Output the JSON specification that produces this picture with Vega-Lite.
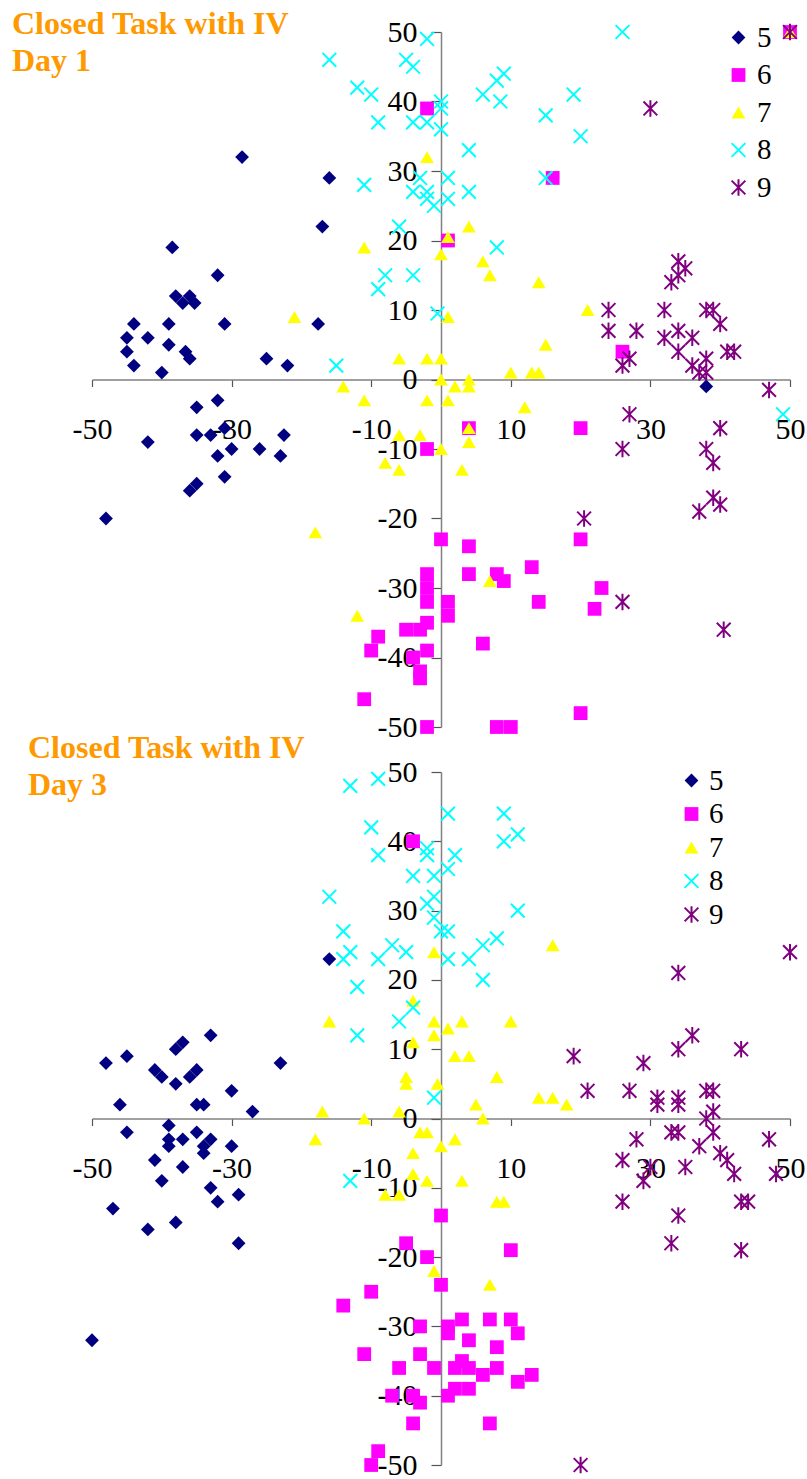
{
  "$schema": "https://vega.github.io/schema/vega-lite/v6.json",
  "background": "white",
  "padding": {"left": 12, "top": 8, "right": 4, "bottom": 2},
  "config": {
    "view": {"stroke": null},
    "font": "Liberation Serif",
    "axis": {"grid": false, "title": null, "labelFont": "Liberation Serif", "labelFontSize": 30, "labelColor": "black", "domainColor": "#808080", "domainWidth": 1.5, "tickColor": "#555555", "tickWidth": 1.2, "labelFlush": false, "labelOverlap": false, "labelBound": false},
    "legend": {"labelFont": "Liberation Serif", "labelColor": "black"}
  },
  "datasets": {
    "day1": [
      {"g":"5","x":-28.5,"y":32},{"g":"5","x":-16,"y":29},{"g":"5","x":-17,"y":22},{"g":"5","x":-38.5,"y":19},{"g":"5","x":-32,"y":15},{"g":"5","x":-38,"y":12},{"g":"5","x":-37,"y":11},{"g":"5","x":-36,"y":12},{"g":"5","x":-35.3,"y":11},{"g":"5","x":-44,"y":8},{"g":"5","x":-39,"y":8},{"g":"5","x":-31,"y":8},{"g":"5","x":-17.6,"y":8},{"g":"5","x":-45,"y":6},{"g":"5","x":-42,"y":6},{"g":"5","x":-39,"y":5},{"g":"5","x":-45,"y":4},{"g":"5","x":-36.6,"y":4},{"g":"5","x":-36,"y":3},{"g":"5","x":-44,"y":2},{"g":"5","x":-40,"y":1},{"g":"5","x":-25,"y":3},{"g":"5","x":-22,"y":2},{"g":"5","x":-32,"y":-3},{"g":"5","x":-35,"y":-4},{"g":"5","x":-35,"y":-8},{"g":"5","x":-33,"y":-8},{"g":"5","x":-31,"y":-7},{"g":"5","x":-22.5,"y":-8},{"g":"5","x":-42,"y":-9},{"g":"5","x":-30,"y":-10},{"g":"5","x":-26,"y":-10},{"g":"5","x":-32,"y":-11},{"g":"5","x":-23,"y":-11},{"g":"5","x":-31,"y":-14},{"g":"5","x":-36,"y":-16},{"g":"5","x":-35,"y":-15},{"g":"5","x":-48,"y":-20},{"g":"5","x":38,"y":-1},
      {"g":"6","x":-2,"y":39},{"g":"6","x":16,"y":29},{"g":"6","x":1,"y":20},{"g":"6","x":26,"y":4},{"g":"6","x":50,"y":50},{"g":"6","x":4,"y":-7},{"g":"6","x":20,"y":-7},{"g":"6","x":-2,"y":-10},{"g":"6","x":0,"y":-23},{"g":"6","x":4,"y":-24},{"g":"6","x":20,"y":-23},{"g":"6","x":4,"y":-28},{"g":"6","x":8,"y":-28},{"g":"6","x":9,"y":-29},{"g":"6","x":13,"y":-27},{"g":"6","x":23,"y":-30},{"g":"6","x":14,"y":-32},{"g":"6","x":22,"y":-33},{"g":"6","x":-2,"y":-28},{"g":"6","x":-2,"y":-30},{"g":"6","x":-2,"y":-32},{"g":"6","x":1,"y":-32},{"g":"6","x":1,"y":-34},{"g":"6","x":-2,"y":-35},{"g":"6","x":-5,"y":-36},{"g":"6","x":-3,"y":-36},{"g":"6","x":6,"y":-38},{"g":"6","x":-2,"y":-39},{"g":"6","x":-4,"y":-40},{"g":"6","x":-3,"y":-42},{"g":"6","x":-3,"y":-43},{"g":"6","x":20,"y":-48},{"g":"6","x":-2,"y":-50},{"g":"6","x":8,"y":-50},{"g":"6","x":10,"y":-50},{"g":"6","x":-9,"y":-37},{"g":"6","x":-10,"y":-39},{"g":"6","x":-11,"y":-46},
      {"g":"7","x":-21,"y":9},{"g":"7","x":-11,"y":19},{"g":"7","x":-6,"y":3},{"g":"7","x":-2,"y":3},{"g":"7","x":0,"y":3},{"g":"7","x":-2,"y":32},{"g":"7","x":1,"y":20.5},{"g":"7","x":4,"y":22},{"g":"7","x":0,"y":18},{"g":"7","x":6,"y":17},{"g":"7","x":7,"y":15},{"g":"7","x":14,"y":14},{"g":"7","x":1,"y":9},{"g":"7","x":15,"y":5},{"g":"7","x":21,"y":10},{"g":"7","x":10,"y":1},{"g":"7","x":13,"y":1},{"g":"7","x":14,"y":1},{"g":"7","x":-14,"y":-1},{"g":"7","x":0,"y":0},{"g":"7","x":2,"y":-1},{"g":"7","x":4,"y":0},{"g":"7","x":4,"y":-1},{"g":"7","x":-11,"y":-3},{"g":"7","x":-2,"y":-3},{"g":"7","x":1,"y":-3},{"g":"7","x":12,"y":-4},{"g":"7","x":4,"y":-7},{"g":"7","x":-6,"y":-8},{"g":"7","x":-3,"y":-8},{"g":"7","x":0,"y":-10},{"g":"7","x":4,"y":-9},{"g":"7","x":-8,"y":-12},{"g":"7","x":-6,"y":-13},{"g":"7","x":3,"y":-13},{"g":"7","x":7,"y":-29},{"g":"7","x":-12,"y":-34},{"g":"7","x":-18,"y":-22},{"g":"7","x":50,"y":50},
      {"g":"8","x":-2,"y":49},{"g":"8","x":-16,"y":46},{"g":"8","x":-5,"y":46},{"g":"8","x":-4,"y":45},{"g":"8","x":-12,"y":42},{"g":"8","x":-10,"y":41},{"g":"8","x":-9,"y":37},{"g":"8","x":-4,"y":37},{"g":"8","x":-2,"y":37},{"g":"8","x":0,"y":40},{"g":"8","x":0,"y":39},{"g":"8","x":0,"y":36},{"g":"8","x":4,"y":33},{"g":"8","x":6,"y":41},{"g":"8","x":8,"y":43},{"g":"8","x":9,"y":44},{"g":"8","x":8.5,"y":40},{"g":"8","x":15,"y":38},{"g":"8","x":19,"y":41},{"g":"8","x":20,"y":35},{"g":"8","x":26,"y":50},{"g":"8","x":-11,"y":28},{"g":"8","x":-3,"y":29},{"g":"8","x":-4,"y":27},{"g":"8","x":-2,"y":27},{"g":"8","x":-2,"y":26},{"g":"8","x":-1,"y":25},{"g":"8","x":1,"y":29},{"g":"8","x":1,"y":26},{"g":"8","x":4,"y":27},{"g":"8","x":15,"y":29},{"g":"8","x":-6,"y":22},{"g":"8","x":8,"y":19},{"g":"8","x":-8,"y":15},{"g":"8","x":-4,"y":15},{"g":"8","x":-9,"y":13},{"g":"8","x":-0.5,"y":9.5},{"g":"8","x":-15,"y":2},{"g":"8","x":49,"y":-5},
      {"g":"9","x":30,"y":39},{"g":"9","x":34,"y":17},{"g":"9","x":35,"y":16},{"g":"9","x":34,"y":15},{"g":"9","x":33,"y":14},{"g":"9","x":24,"y":10},{"g":"9","x":32,"y":10},{"g":"9","x":38,"y":10},{"g":"9","x":39,"y":10},{"g":"9","x":40,"y":8},{"g":"9","x":24,"y":7},{"g":"9","x":28,"y":7},{"g":"9","x":32,"y":6},{"g":"9","x":34,"y":7},{"g":"9","x":36,"y":6},{"g":"9","x":34,"y":4},{"g":"9","x":41,"y":4},{"g":"9","x":42,"y":4},{"g":"9","x":26,"y":2},{"g":"9","x":27,"y":3},{"g":"9","x":36,"y":2},{"g":"9","x":38,"y":3},{"g":"9","x":37,"y":1},{"g":"9","x":38,"y":1},{"g":"9","x":47,"y":-1.5},{"g":"9","x":27,"y":-5},{"g":"9","x":40,"y":-7},{"g":"9","x":26,"y":-10},{"g":"9","x":38,"y":-10},{"g":"9","x":39,"y":-12},{"g":"9","x":39,"y":-17},{"g":"9","x":40,"y":-18},{"g":"9","x":37,"y":-19},{"g":"9","x":20.5,"y":-20},{"g":"9","x":26,"y":-32},{"g":"9","x":40.5,"y":-36},{"g":"9","x":50,"y":50}
    ],
    "day3": [
      {"g":"5","x":-16,"y":23},{"g":"5","x":-33,"y":12},{"g":"5","x":-37,"y":11},{"g":"5","x":-38,"y":10},{"g":"5","x":-48,"y":8},{"g":"5","x":-45,"y":9},{"g":"5","x":-23,"y":8},{"g":"5","x":-41,"y":7},{"g":"5","x":-35,"y":7},{"g":"5","x":-40,"y":6},{"g":"5","x":-36,"y":6},{"g":"5","x":-38,"y":5},{"g":"5","x":-30,"y":4},{"g":"5","x":-46,"y":2},{"g":"5","x":-35,"y":2},{"g":"5","x":-34,"y":2},{"g":"5","x":-27,"y":1},{"g":"5","x":-45,"y":-2},{"g":"5","x":-39,"y":-1},{"g":"5","x":-39,"y":-3},{"g":"5","x":-39,"y":-4},{"g":"5","x":-37,"y":-3},{"g":"5","x":-35,"y":-2},{"g":"5","x":-34,"y":-4},{"g":"5","x":-33,"y":-3},{"g":"5","x":-34,"y":-5},{"g":"5","x":-30,"y":-4},{"g":"5","x":-41,"y":-6},{"g":"5","x":-37,"y":-7},{"g":"5","x":-40,"y":-9},{"g":"5","x":-33,"y":-10},{"g":"5","x":-29,"y":-11},{"g":"5","x":-32,"y":-12},{"g":"5","x":-47,"y":-13},{"g":"5","x":-38,"y":-15},{"g":"5","x":-42,"y":-16},{"g":"5","x":-29,"y":-18},{"g":"5","x":-50,"y":-32},
      {"g":"6","x":-4,"y":40},{"g":"6","x":0,"y":-14},{"g":"6","x":-5,"y":-18},{"g":"6","x":-2,"y":-20},{"g":"6","x":10,"y":-19},{"g":"6","x":0,"y":-24},{"g":"6","x":-10,"y":-25},{"g":"6","x":-14,"y":-27},{"g":"6","x":-3,"y":-30},{"g":"6","x":1,"y":-30},{"g":"6","x":1,"y":-31},{"g":"6","x":3,"y":-29},{"g":"6","x":7,"y":-29},{"g":"6","x":10,"y":-29},{"g":"6","x":11,"y":-31},{"g":"6","x":4,"y":-32},{"g":"6","x":8,"y":-33},{"g":"6","x":-11,"y":-34},{"g":"6","x":-3,"y":-34},{"g":"6","x":-6,"y":-36},{"g":"6","x":-1,"y":-36},{"g":"6","x":2,"y":-36},{"g":"6","x":3,"y":-35},{"g":"6","x":4,"y":-36},{"g":"6","x":6,"y":-37},{"g":"6","x":8,"y":-36},{"g":"6","x":11,"y":-38},{"g":"6","x":13,"y":-37},{"g":"6","x":1,"y":-40},{"g":"6","x":2,"y":-39},{"g":"6","x":4,"y":-39},{"g":"6","x":-7,"y":-40},{"g":"6","x":-4,"y":-40},{"g":"6","x":-3,"y":-41},{"g":"6","x":-4,"y":-44},{"g":"6","x":7,"y":-44},{"g":"6","x":-9,"y":-48},{"g":"6","x":-10,"y":-50},
      {"g":"7","x":-1,"y":24},{"g":"7","x":16,"y":25},{"g":"7","x":-4,"y":17},{"g":"7","x":-16,"y":14},{"g":"7","x":-1,"y":14},{"g":"7","x":3,"y":14},{"g":"7","x":10,"y":14},{"g":"7","x":1,"y":13},{"g":"7","x":-1,"y":12},{"g":"7","x":-4,"y":11},{"g":"7","x":2,"y":9},{"g":"7","x":4,"y":9},{"g":"7","x":-5,"y":6},{"g":"7","x":-5,"y":5},{"g":"7","x":-0.5,"y":5},{"g":"7","x":8,"y":6},{"g":"7","x":14,"y":3},{"g":"7","x":16,"y":3},{"g":"7","x":18,"y":2},{"g":"7","x":5,"y":2},{"g":"7","x":-6,"y":1},{"g":"7","x":6,"y":0},{"g":"7","x":-17,"y":1},{"g":"7","x":-11,"y":0},{"g":"7","x":-18,"y":-3},{"g":"7","x":-3,"y":-2},{"g":"7","x":-2,"y":-2},{"g":"7","x":0,"y":-4},{"g":"7","x":2,"y":-3},{"g":"7","x":-4,"y":-5},{"g":"7","x":-4,"y":-8},{"g":"7","x":-2,"y":-9},{"g":"7","x":3,"y":-9},{"g":"7","x":-8,"y":-11},{"g":"7","x":-6,"y":-11},{"g":"7","x":8,"y":-12},{"g":"7","x":9,"y":-12},{"g":"7","x":-1,"y":-22},{"g":"7","x":7,"y":-24},
      {"g":"8","x":-9,"y":49},{"g":"8","x":-13,"y":48},{"g":"8","x":1,"y":44},{"g":"8","x":9,"y":44},{"g":"8","x":-10,"y":42},{"g":"8","x":11,"y":41},{"g":"8","x":9,"y":40},{"g":"8","x":-2,"y":39},{"g":"8","x":-9,"y":38},{"g":"8","x":-2,"y":38},{"g":"8","x":2,"y":38},{"g":"8","x":1,"y":36},{"g":"8","x":-4,"y":35},{"g":"8","x":-1,"y":35},{"g":"8","x":-16,"y":32},{"g":"8","x":-2,"y":31},{"g":"8","x":-1,"y":32},{"g":"8","x":-1,"y":29},{"g":"8","x":11,"y":30},{"g":"8","x":0,"y":27},{"g":"8","x":1,"y":27},{"g":"8","x":-14,"y":27},{"g":"8","x":8,"y":26},{"g":"8","x":6,"y":25},{"g":"8","x":-7,"y":25},{"g":"8","x":-5,"y":24},{"g":"8","x":-13,"y":24},{"g":"8","x":-14,"y":23},{"g":"8","x":-9,"y":23},{"g":"8","x":1,"y":23},{"g":"8","x":4,"y":23},{"g":"8","x":6,"y":20},{"g":"8","x":-12,"y":19},{"g":"8","x":-4,"y":16},{"g":"8","x":-6,"y":14},{"g":"8","x":-12,"y":12},{"g":"8","x":-1,"y":3},{"g":"8","x":-13,"y":-9},
      {"g":"9","x":50,"y":24},{"g":"9","x":34,"y":21},{"g":"9","x":36,"y":12},{"g":"9","x":34,"y":10},{"g":"9","x":43,"y":10},{"g":"9","x":19,"y":9},{"g":"9","x":29,"y":8},{"g":"9","x":21,"y":4},{"g":"9","x":27,"y":4},{"g":"9","x":38,"y":4},{"g":"9","x":39,"y":4},{"g":"9","x":31,"y":3},{"g":"9","x":31,"y":2},{"g":"9","x":34,"y":3},{"g":"9","x":34,"y":2},{"g":"9","x":38,"y":0},{"g":"9","x":39,"y":1},{"g":"9","x":39,"y":-2},{"g":"9","x":33,"y":-2},{"g":"9","x":34,"y":-2},{"g":"9","x":28,"y":-3},{"g":"9","x":47,"y":-3},{"g":"9","x":37,"y":-4},{"g":"9","x":40,"y":-5},{"g":"9","x":41,"y":-6},{"g":"9","x":26,"y":-6},{"g":"9","x":35,"y":-7},{"g":"9","x":42,"y":-8},{"g":"9","x":30,"y":-7},{"g":"9","x":29,"y":-9},{"g":"9","x":48,"y":-8},{"g":"9","x":26,"y":-12},{"g":"9","x":43,"y":-12},{"g":"9","x":44,"y":-12},{"g":"9","x":34,"y":-14},{"g":"9","x":33,"y":-18},{"g":"9","x":43,"y":-19},{"g":"9","x":20,"y":-50}
    ]
  },
  "spacing": 45,
  "bounds": "flush",
  "resolve": {"legend": {"color": "independent", "stroke": "independent", "shape": "independent"}},
  "vconcat": [
    {
      "width": 698,
      "height": 695,
      "title": {"text": ["Closed Task with IV", "Day 1"], "anchor": "start", "frame": "group", "dx": -80, "dy": 61, "offset": 0, "baseline": "top", "font": "Liberation Serif", "fontSize": 32, "fontWeight": "bold", "color": "#FF9900", "lineHeight": 37},
      "data": {"name": "day1"},
      "mark": {"type": "point", "filled": true, "opacity": 1, "size": 190, "strokeWidth": 2},
      "encoding": {
        "x": {"field": "x", "type": "quantitative", "scale": {"domain": [-50, 50], "nice": false, "zero": false},
              "axis": {"orient": "bottom", "offset": -347.5, "values": [-50, -30, -10, 10, 30, 50], "tickSize": 7, "labelPadding": 28, "labelFont": "Liberation Serif", "labelFontSize": 30, "labelExpr": "datum.value < 0 ? '-' + abs(datum.value) : '' + datum.value"}},
        "y": {"field": "y", "type": "quantitative", "scale": {"domain": [-50, 50], "nice": false, "zero": false},
              "axis": {"orient": "left", "offset": -349, "values": [-50, -40, -30, -20, -10, 0, 10, 20, 30, 40, 50], "tickSize": 10, "labelPadding": 14, "labelFont": "Liberation Serif", "labelFontSize": 30, "labelExpr": "datum.value < 0 ? '-' + abs(datum.value) : '' + datum.value"}},
        "color": {"field": "g", "type": "nominal", "scale": {"domain": ["5", "6", "7", "8", "9"], "range": ["#000080", "#FF00FF", "#FFFF00", "#00FFFF", "#800080"]},
                  "legend": {"title": null, "orient": "none", "legendX": 632, "legendY": -9, "padding": 0, "labelFont": "Liberation Serif", "labelFontSize": 29, "labelOffset": 4, "rowPadding": 7.5, "symbolSize": 190, "symbolStrokeWidth": 2}},
        "stroke": {"field": "g", "type": "nominal", "scale": {"domain": ["5", "6", "7", "8", "9"], "range": ["transparent", "transparent", "transparent", "#00FFFF", "#800080"]},
                  "legend": {"title": null, "orient": "none", "legendX": 632, "legendY": -9, "padding": 0, "labelFont": "Liberation Serif", "labelFontSize": 29, "labelOffset": 4, "rowPadding": 7.5, "symbolSize": 190, "symbolStrokeWidth": 2}},
        "shape": {"field": "g", "type": "nominal", "scale": {"domain": ["5", "6", "7", "8", "9"], "range": ["diamond", "square", "triangle-up", "M-1,-1L1,1M-1,1L1,-1", "M-1,-1L1,1M-1,1L1,-1M0,-1.2L0,1.2"]},
                  "legend": {"title": null, "orient": "none", "legendX": 632, "legendY": -9, "padding": 0, "labelFont": "Liberation Serif", "labelFontSize": 29, "labelOffset": 4, "rowPadding": 7.5, "symbolSize": 190, "symbolStrokeWidth": 2}}
      }
    },
    {
      "width": 698,
      "height": 693,
      "title": {"text": ["Closed Task with IV", "Day 3"], "anchor": "start", "frame": "group", "dx": -64, "dy": 45, "offset": 0, "baseline": "top", "font": "Liberation Serif", "fontSize": 32, "fontWeight": "bold", "color": "#FF9900", "lineHeight": 37},
      "data": {"name": "day3"},
      "mark": {"type": "point", "filled": true, "opacity": 1, "size": 190, "strokeWidth": 2},
      "encoding": {
        "x": {"field": "x", "type": "quantitative", "scale": {"domain": [-50, 50], "nice": false, "zero": false},
              "axis": {"orient": "bottom", "offset": -346.5, "values": [-50, -30, -10, 10, 30, 50], "tickSize": 7, "labelPadding": 28, "labelFont": "Liberation Serif", "labelFontSize": 30, "labelExpr": "datum.value < 0 ? '-' + abs(datum.value) : '' + datum.value"}},
        "y": {"field": "y", "type": "quantitative", "scale": {"domain": [-50, 50], "nice": false, "zero": false},
              "axis": {"orient": "left", "offset": -349, "values": [-50, -40, -30, -20, -10, 0, 10, 20, 30, 40, 50], "tickSize": 10, "labelPadding": 14, "labelFont": "Liberation Serif", "labelFontSize": 30, "labelExpr": "datum.value < 0 ? '-' + abs(datum.value) : '' + datum.value"}},
        "color": {"field": "g", "type": "nominal", "scale": {"domain": ["5", "6", "7", "8", "9"], "range": ["#000080", "#FF00FF", "#FFFF00", "#00FFFF", "#800080"]},
                  "legend": {"title": null, "orient": "none", "legendX": 585, "legendY": -6, "padding": 0, "labelFont": "Liberation Serif", "labelFontSize": 29, "labelOffset": 3, "rowPadding": 3.5, "symbolSize": 190, "symbolStrokeWidth": 2}},
        "stroke": {"field": "g", "type": "nominal", "scale": {"domain": ["5", "6", "7", "8", "9"], "range": ["transparent", "transparent", "transparent", "#00FFFF", "#800080"]},
                  "legend": {"title": null, "orient": "none", "legendX": 585, "legendY": -6, "padding": 0, "labelFont": "Liberation Serif", "labelFontSize": 29, "labelOffset": 3, "rowPadding": 3.5, "symbolSize": 190, "symbolStrokeWidth": 2}},
        "shape": {"field": "g", "type": "nominal", "scale": {"domain": ["5", "6", "7", "8", "9"], "range": ["diamond", "square", "triangle-up", "M-1,-1L1,1M-1,1L1,-1", "M-1,-1L1,1M-1,1L1,-1M0,-1.2L0,1.2"]},
                  "legend": {"title": null, "orient": "none", "legendX": 585, "legendY": -6, "padding": 0, "labelFont": "Liberation Serif", "labelFontSize": 29, "labelOffset": 3, "rowPadding": 3.5, "symbolSize": 190, "symbolStrokeWidth": 2}}
      }
    }
  ]
}
